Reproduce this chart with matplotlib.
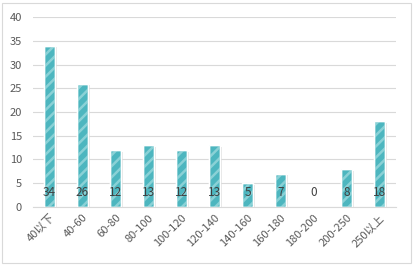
import numpy as np
import matplotlib
matplotlib.use("Agg")
from matplotlib import pyplot as plt
from matplotlib.patches import Rectangle
import matplotlib.transforms as mtransforms

plt.rcParams['font.family'] = ['Noto Sans CJK SC', 'DejaVu Sans']

# data
categories = ["40以下", "40-60", "60-80", "80-100", "100-120", "120-140",
              "140-160", "160-180", "180-200", "200-250", "250以上"]
values = [34, 26, 12, 13, 12, 13, 5, 7, 0, 8, 18]
yticks = [0, 5, 10, 15, 20, 25, 30, 35, 40]

fig = plt.figure(figsize=(4.13, 2.67), dpi=100)
ax = fig.add_axes([0.08, 0.225, 0.879, 0.711])

x = np.arange(len(categories))
w = 0.34

# soft shadow
shadow = mtransforms.offset_copy(ax.transData, fig=fig, x=1.2, y=-1.2, units='points')
ax.bar(x, values, width=w, color='#bfbfbf', alpha=0.5, linewidth=0,
       transform=shadow, zorder=2)
# bars
ax.bar(x, values, width=w, color='#4db6bf', edgecolor='white', linewidth=1.0, zorder=3)
plt.rcParams['hatch.linewidth'] = 1.8
ax.bar(x, values, width=w, facecolor='none', edgecolor='#8ad1d6', hatch='///',
       linewidth=0, zorder=4)
ax.bar(x, values, width=w, facecolor='none', edgecolor='white', linewidth=1.0, zorder=5)

for xi, v in zip(x, values):
    ax.text(xi, 3.0, str(v), ha='center', va='center', fontsize=8.5, color='#404040', zorder=6)

ax.set_xlim(-0.5, len(categories) - 0.5)
ax.set_ylim(0, 40)
ax.set_yticks(yticks)
ax.yaxis.grid(True, color='#d9d9d9', linewidth=0.8, zorder=0)
ax.set_axisbelow(True)
for s in ['top', 'right', 'left']:
    ax.spines[s].set_visible(False)
ax.spines['bottom'].set_color('#d9d9d9')
ax.tick_params(axis='both', length=0, colors='#595959', labelsize=8)
ax.tick_params(axis='y', pad=8)
ax.set_xticks(x)
ax.set_xticklabels(categories, rotation=45, ha='right', rotation_mode='anchor')
ax.tick_params(axis='x', pad=4)

fig.patches.append(Rectangle((0.005, 0.015), 0.99, 0.975, transform=fig.transFigure,
                             fill=False, edgecolor='#d9d9d9', linewidth=0.8))

fig.savefig("out.png", dpi=100)
